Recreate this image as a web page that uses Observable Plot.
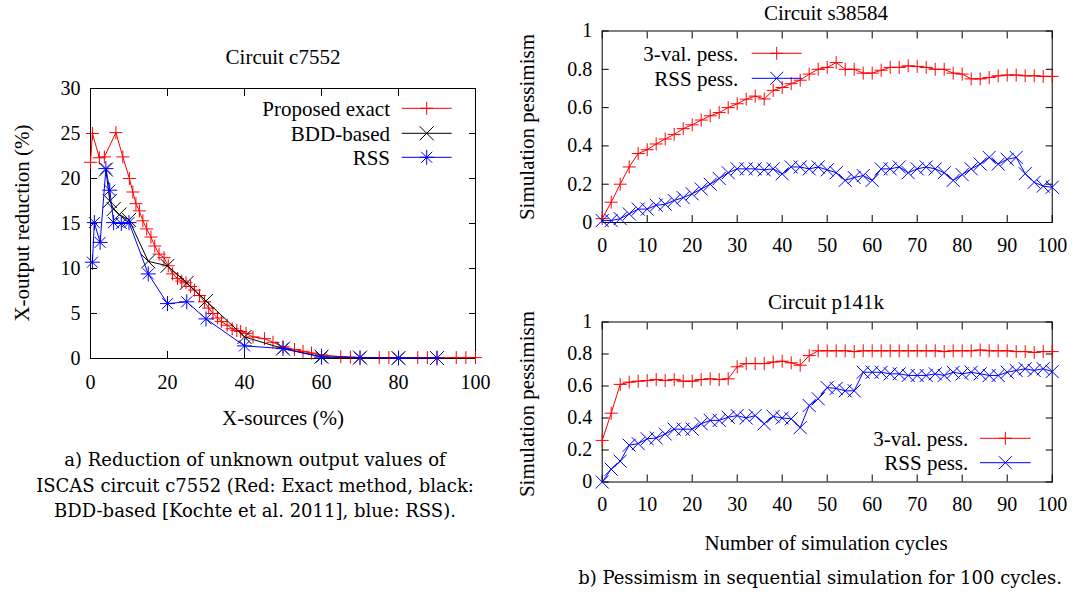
<!DOCTYPE html>
<html><head><meta charset="utf-8">
<script src="https://cdn.jsdelivr.net/npm/d3@7"></script>
<script src="https://cdn.jsdelivr.net/npm/@observablehq/plot@0.6"></script>
<style>
body{margin:0;background:#fff;}
#root{position:relative;width:1075px;height:595px;overflow:hidden;background:#fff;}
.abs{position:absolute;white-space:nowrap;}
.gp{font-family:"Liberation Serif","Times New Roman",serif;font-size:21px;color:#000;transform:translate(-50%,-50%);}
.rot{transform:translate(-50%,-50%) rotate(-90deg);}
.cap{font-family:"DejaVu Serif",serif;font-size:18px;color:#000;text-align:center;line-height:25.5px;transform:translateX(-50%);}
</style></head><body><div id="root"></div>
<script>
// ---------- Data: Circuit c7552 (left) ----------
const exactX = [0,0.5,2.3,3.6,6.6,8.4,10.1,11,11.8,12.7,13.6,14.6,15.7,16.7,17.8,19.1,20.2,21.3,22.6,23.7,24.8,26,27,28.3,29.6,30.7,31.8,33,34,35.5,36.8,38,39,40.4,42.2,45.2,47.4,50,53,55.2,57.4,60,65,67.5,70,75,77.5,80,85,87.5,90,95,97.5,100];
const exactY = [21.8,25.0,22.3,22.4,25.1,22.4,20.0,18.5,17.2,16.4,15.3,14.4,13.5,12.5,11.6,11.2,10.3,9.4,8.9,8.6,8.4,8.0,7.6,7.0,6.3,5.6,5.0,4.5,4.1,3.7,3.3,3.1,3.0,2.8,2.4,2.2,1.8,1.3,1.0,0.8,0.6,0.4,0.2,0.15,0.1,0.1,0.1,0.1,0.1,0.1,0.1,0.1,0.1,0.1];
const bddX = [4,5,6,7.5,10,15,20,25,30,40,50,60,70,80,90];
const bddY = [21.0,17.5,16.6,16.0,15.4,10.8,10.3,8.4,6.4,2.4,1.1,0.2,0.1,0.05,0.05];
const rssX = [0.5,1,2.5,4,5,6,8,10,15,20,25,30,40,50,60,70,80,90];
const rssY = [10.7,15.1,12.9,21.1,18.7,15.1,15.0,15.1,9.4,6.1,6.3,4.4,1.4,1.1,0.15,0.1,0.05,0.05];
const c7552XTicks = [0,20,40,60,80,100];
const c7552YTicks = [0,5,10,15,20,25,30];

// ---------- Data: Circuit s38584 (top right) ----------
const cycles = [0,2,4,6,8,10,12,14,16,18,20,22,24,26,28,30,32,34,36,38,40,42,44,46,48,50,52,54,56,58,60,62,64,66,68,70,72,74,76,78,80,82,84,86,88,90,92,94,96,98,100];
const s38Val3 = [0.02,0.106,0.20,0.29,0.36,0.38,0.41,0.436,0.46,0.49,0.51,0.535,0.557,0.574,0.60,0.62,0.644,0.66,0.645,0.69,0.705,0.725,0.743,0.775,0.80,0.81,0.835,0.80,0.80,0.78,0.78,0.795,0.81,0.81,0.818,0.815,0.81,0.80,0.80,0.78,0.775,0.75,0.75,0.757,0.766,0.77,0.77,0.766,0.766,0.763,0.763];
const s38Rss = [0.01,0.01,0.02,0.045,0.07,0.07,0.09,0.095,0.115,0.13,0.15,0.175,0.20,0.23,0.26,0.28,0.28,0.28,0.275,0.28,0.254,0.29,0.29,0.28,0.29,0.275,0.26,0.22,0.235,0.245,0.22,0.28,0.28,0.29,0.26,0.28,0.29,0.28,0.26,0.22,0.25,0.28,0.305,0.34,0.305,0.33,0.34,0.255,0.21,0.19,0.184];

// ---------- Data: Circuit p141k (bottom right) ----------
const p141Val3 = [0.26,0.43,0.61,0.624,0.63,0.634,0.64,0.634,0.64,0.63,0.63,0.64,0.645,0.64,0.645,0.72,0.74,0.74,0.74,0.75,0.755,0.745,0.73,0.79,0.82,0.82,0.82,0.82,0.815,0.82,0.82,0.82,0.82,0.82,0.82,0.82,0.82,0.82,0.815,0.82,0.82,0.82,0.825,0.82,0.82,0.82,0.815,0.815,0.81,0.815,0.815];
const p141Rss = [0.0,0.08,0.13,0.23,0.24,0.27,0.275,0.30,0.33,0.33,0.33,0.364,0.385,0.385,0.405,0.415,0.40,0.415,0.364,0.41,0.40,0.395,0.34,0.478,0.52,0.59,0.585,0.57,0.57,0.686,0.686,0.686,0.676,0.676,0.666,0.666,0.666,0.676,0.666,0.686,0.676,0.686,0.676,0.666,0.666,0.686,0.697,0.708,0.697,0.708,0.69];
const cycleTicks = [0,10,20,30,40,50,60,70,80,90,100];
const pessTicks = [0,0.2,0.4,0.6,0.8,1];

// ---------- symbols (gnuplot point types) ----------
const mkPlus = r => ({draw(c){c.moveTo(-r,0);c.lineTo(r,0);c.moveTo(0,-r);c.lineTo(0,r);}});
const mkTimes = r => ({draw(c){c.moveTo(-r,-r);c.lineTo(r,r);c.moveTo(-r,r);c.lineTo(r,-r);}});
const mkStar = (r,q) => ({draw(c){c.moveTo(-r,0);c.lineTo(r,0);c.moveTo(0,-r);c.lineTo(0,r);c.moveTo(-q,-q);c.lineTo(q,q);c.moveTo(-q,q);c.lineTo(q,-q);}});
const RED = "#ff0000", BLUE = "#0000ff", BLACK = "#000000";

const root = document.getElementById("root");
const baseStyle = {fontFamily:'"Liberation Serif","Times New Roman",serif', fontSize:"20px", color:"#000", background:"transparent", overflow:"visible"};

function axes(xt, yt, xfmt, yfmt, xPad, yPad) {
  const blank = () => "";
  return [
    Plot.axisX({ticks: xt, tickSize: -7, tickFormat: blank, label: null}),
    Plot.axisX({anchor: "top", ticks: xt, tickSize: -7, tickFormat: blank, label: null}),
    Plot.axisY({ticks: yt, tickSize: -7, tickFormat: blank, label: null}),
    Plot.axisY({anchor: "right", ticks: yt, tickSize: -7, tickFormat: blank, label: null}),
    Plot.axisX({ticks: xt, tickSize: 0, tickPadding: xPad, tickFormat: xfmt, label: null}),
    Plot.axisY({ticks: yt, tickSize: 0, tickPadding: yPad, tickFormat: yfmt, label: null}),
    Plot.frame({stroke: "#000", strokeWidth: 1})
  ];
}
function place(svg, left, top, w) {
  const d = document.createElement("div");
  d.className = "abs"; d.style.left = left + "px"; d.style.top = top + "px"; d.style.width = w + "px";
  d.appendChild(svg); root.appendChild(d);
}
function label(text, x, y, cls) {
  const d = document.createElement("div");
  d.className = "abs " + cls; d.style.left = x + "px"; d.style.top = y + "px";
  d.textContent = text; root.appendChild(d);
}

// ---------- Left chart ----------
const exactData = exactX.map((x,i)=>({x, y: exactY[i]}));
const bddData = bddX.map((x,i)=>({x, y: bddY[i]}));
const rssData = rssX.map((x,i)=>({x, y: rssY[i]}));
const left = Plot.plot({
  width: 500, height: 400, marginLeft: 90, marginRight: 25, marginTop: 88, marginBottom: 42,
  x: {domain: [0,100]}, y: {domain: [0,30]}, style: baseStyle,
  marks: [
    ...axes(c7552XTicks, c7552YTicks, d=>String(d), d=>String(d), 16, 10),
    Plot.line(exactData, {x:"x", y:"y", stroke: RED, strokeWidth: 1}),
    Plot.dot(exactData, {x:"x", y:"y", symbol: mkPlus(6.5), stroke: RED, fill:"none", strokeWidth: 1}),
    Plot.line(bddData, {x:"x", y:"y", stroke: BLACK, strokeWidth: 1}),
    Plot.dot(bddData, {x:"x", y:"y", symbol: mkTimes(7), stroke: BLACK, fill:"none", strokeWidth: 1}),
    Plot.line(rssData, {x:"x", y:"y", stroke: BLUE, strokeWidth: 1}),
    Plot.dot(rssData, {x:"x", y:"y", symbol: mkStar(7.5,5.5), stroke: BLUE, fill:"none", strokeWidth: 1})
  ]
});
place(left, 0, 0, 500);

// ---------- Right charts ----------
const s38 = cycles.map((c,i)=>({c, v: s38Val3[i], r: s38Rss[i]}));
const p141 = cycles.map((c,i)=>({c, v: p141Val3[i], r: p141Rss[i]}));
function rightPlot(data, mt, h, mb) {
  return Plot.plot({
    width: 575, height: h, marginLeft: 101.7, marginRight: 23.3, marginTop: mt, marginBottom: mb,
    x: {domain: [0,100]}, y: {domain: [0,1]}, style: baseStyle,
    marks: [
      ...axes(cycleTicks, pessTicks, d=>String(d), d=>String(d), 15, 10),
      Plot.line(data, {x:"c", y:"v", stroke: RED, strokeWidth: 1}),
      Plot.dot(data, {x:"c", y:"v", symbol: mkPlus(6.5), stroke: RED, fill:"none", strokeWidth: 1}),
      Plot.line(data, {x:"c", y:"r", stroke: BLUE, strokeWidth: 1}),
      Plot.dot(data, {x:"c", y:"r", symbol: mkTimes(6.5), stroke: BLUE, fill:"none", strokeWidth: 1})
    ]
  });
}
place(rightPlot(s38, 30.5, 270, 48), 500, 0, 575);
place(rightPlot(p141, 31.5, 230, 38.5), 500, 290, 575);

// ---------- Titles, axis labels, captions ----------
label("Circuit c7552", 283, 57, "gp");
label("X-output reduction (%)", 22, 223, "gp rot");
label("X-sources (%)", 283, 418, "gp");
label("Circuit s38584", 826, 13, "gp");
label("Simulation pessimism", 527, 127, "gp rot");
label("Circuit p141k", 826, 302, "gp");
label("Simulation pessimism", 527, 404, "gp rot");
label("Number of simulation cycles", 826, 543, "gp");
const capA = document.createElement("div");
capA.className = "abs cap"; capA.style.left = "255px"; capA.style.top = "447px";
capA.innerHTML = "a) Reduction of unknown output values of<br>ISCAS circuit c7552 (Red: Exact method, black:<br>BDD-based [Kochte et al. 2011], blue: RSS).";
root.appendChild(capA);
const capB = document.createElement("div");
capB.className = "abs cap"; capB.style.left = "820px"; capB.style.top = "565px";
capB.textContent = "b) Pessimism in sequential simulation for 100 cycles.";
root.appendChild(capB);

// ---------- Legends (overlay) ----------
const ov = d3.select(root).append("svg").attr("class","abs").attr("width",1075).attr("height",595)
  .style("left","0px").style("top","0px").style("pointer-events","none")
  .style("font-family",'"Liberation Serif","Times New Roman",serif').style("font-size","21px");
function legend(entries, textEnd, x1, x2, ys) {
  entries.forEach((e,i) => {
    const y = ys[i];
    ov.append("text").attr("x", textEnd).attr("y", y).attr("dy","0.35em").attr("text-anchor","end").attr("fill","#000").text(e.name);
    ov.append("line").attr("x1",x1).attr("x2",x2).attr("y1",y).attr("y2",y).attr("stroke",e.color).attr("stroke-width",1);
    ov.append("path").attr("transform",`translate(${(x1+x2)/2},${y})`).attr("d", d3.symbol(e.sym)()).attr("stroke",e.color).attr("fill","none").attr("stroke-width",1);
  });
}
legend([{name:"Proposed exact",color:RED,sym:mkPlus(6.5)},{name:"BDD-based",color:BLACK,sym:mkTimes(7)},{name:"RSS",color:BLUE,sym:mkStar(7.5,5.5)}], 390, 401.7, 451.7, [108.3,133.3,157.3]);
legend([{name:"3-val. pess.",color:RED,sym:mkPlus(6.5)},{name:"RSS pess.",color:BLUE,sym:mkTimes(6.5)}], 738.3, 751.7, 801.7, [53.3,78.3]);
legend([{name:"3-val. pess.",color:RED,sym:mkPlus(6.5)},{name:"RSS pess.",color:BLUE,sym:mkTimes(6.5)}], 968.3, 980, 1030.7, [438.3,462.7]);
</script></body></html>
